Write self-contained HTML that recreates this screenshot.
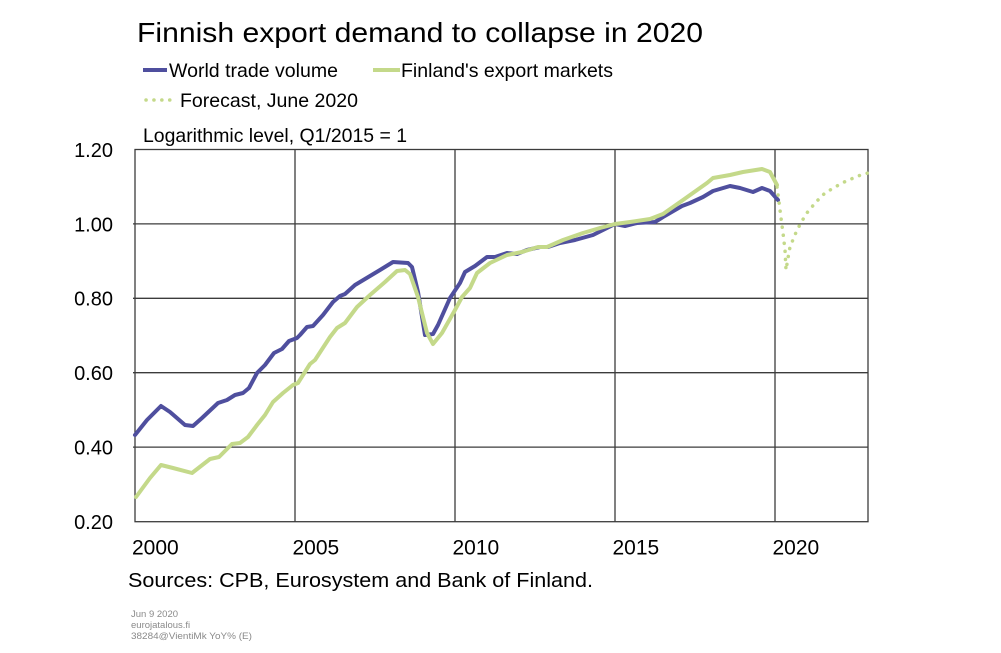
<!DOCTYPE html>
<html>
<head>
<meta charset="utf-8">
<style>
html,body{margin:0;padding:0;background:#fff;}
svg{display:block;}
text{font-family:"Liberation Sans",Arial,sans-serif;fill:#000;}
</style>
</head>
<body>
<svg width="1001" height="653" viewBox="0 0 1001 653" xmlns="http://www.w3.org/2000/svg">
<rect width="1001" height="653" fill="#fff"/>
<!-- Title -->
<text x="137" y="42" font-size="28" textLength="566" lengthAdjust="spacingAndGlyphs">Finnish export demand to collapse in 2020</text>
<!-- Legend -->
<line x1="143" y1="70" x2="167" y2="70" stroke="#4f4f9e" stroke-width="4"/>
<text x="169" y="77" font-size="19.5" textLength="169" lengthAdjust="spacingAndGlyphs">World trade volume</text>
<line x1="373" y1="70" x2="400" y2="70" stroke="#c4d98a" stroke-width="4"/>
<text x="401" y="77" font-size="19.5" textLength="212" lengthAdjust="spacingAndGlyphs">Finland's export markets</text>
<line x1="146" y1="100" x2="171" y2="100" stroke="#c4d98a" stroke-width="3.5" stroke-linecap="round" stroke-dasharray="0.1 7.8"/>
<text x="180" y="107" font-size="19.5" textLength="178" lengthAdjust="spacingAndGlyphs">Forecast, June 2020</text>
<text x="143" y="142" font-size="19.5" textLength="264" lengthAdjust="spacingAndGlyphs">Logarithmic level, Q1/2015 = 1</text>

<!-- Grid -->
<g stroke="#3c3c3c" stroke-width="1.3" fill="none">
<line x1="133" y1="223.9" x2="868" y2="223.9"/>
<line x1="133" y1="298.3" x2="868" y2="298.3"/>
<line x1="133" y1="372.7" x2="868" y2="372.7"/>
<line x1="133" y1="447.1" x2="868" y2="447.1"/>
<line x1="295" y1="149.5" x2="295" y2="521.7"/>
<line x1="455" y1="149.5" x2="455" y2="521.7"/>
<line x1="615" y1="149.5" x2="615" y2="521.7"/>
<line x1="775" y1="149.5" x2="775" y2="521.7"/>
<rect x="135" y="149.5" width="733" height="372.2"/>
</g>

<!-- Y labels -->
<g font-size="20" text-anchor="end">
<text x="113" y="157">1.20</text>
<text x="113" y="231.3">1.00</text>
<text x="113" y="305.7">0.80</text>
<text x="113" y="380.1">0.60</text>
<text x="113" y="454.5">0.40</text>
<text x="113" y="528.9">0.20</text>
</g>
<!-- X labels -->
<g font-size="21">
<text x="132" y="554.5">2000</text>
<text x="292.5" y="554.5">2005</text>
<text x="452.5" y="554.5">2010</text>
<text x="612.5" y="554.5">2015</text>
<text x="772.5" y="554.5">2020</text>
</g>

<!-- Series -->
<polyline fill="none" stroke="#4f4f9e" stroke-width="4" stroke-linejoin="round" stroke-linecap="round" points="135,435 147,420 161,406 170,412 185,425 193,426 202,418 218,403 227,400 235,395 243,393 249,388 257,373 265,365 274,353 282,349 289,341 297,338 300,335 307,327 313,326 323,315 333,302 340,296 345,294 355,285 370,276 380,270 393,262 408,263 412,267 418,292 425,335 433,334 438,325 450,298 460,283 465,272 475,266 487,257 495,257 507,253 517,254 527,250 540,247 548,247 560,243 575,240 593,235 607,228 615,224 625,226 637,223 655,222 663,217 682,206 690,203 703,197 713,191 730,186 740,188 753,192 762,188 770,191 778,200"/>
<polyline fill="none" stroke="#c4d98a" stroke-width="4" stroke-linejoin="round" stroke-linecap="round" points="136,497 150,478 161,465 173,468 192,473 210,459 219,457 232,444 240,443 248,437 257,425 265,415 273,402 283,393 293,385 298,383 310,364 315,360 330,337 337,328 345,323 357,307 370,295 385,282 397,271 405,270 410,274 418,297 427,333 433,344 442,333 455,310 462,297 470,288 477,273 490,263 507,255 522,252 538,247 547,247 563,240 583,233 600,228 615,224 630,222 650,219 663,214 683,200 707,183 713,178 730,175 743,172 762,169 770,172 777,185"/>
<polyline fill="none" stroke="#c4d98a" stroke-width="3.5" stroke-linecap="round" stroke-linejoin="round" stroke-dasharray="0.1 8" points="777,187 779,202 781,218 783,233 785,250 786,270 788,258 790,247 797,230 806,214 816,202 825,193 842,183 858,176 868,173"/>

<!-- Sources -->
<text x="128" y="587" font-size="20" textLength="465" lengthAdjust="spacingAndGlyphs">Sources: CPB, Eurosystem and Bank of Finland.</text>
<!-- Footer -->
<g font-size="9.5" style="fill:#8a8a8a">
<text x="131" y="617" style="fill:#8a8a8a">Jun 9 2020</text>
<text x="131" y="628" style="fill:#8a8a8a">eurojatalous.fi</text>
<text x="131" y="639" style="fill:#8a8a8a" textLength="121" lengthAdjust="spacingAndGlyphs">38284@VientiMk YoY% (E)</text>
</g>
</svg>
</body>
</html>
